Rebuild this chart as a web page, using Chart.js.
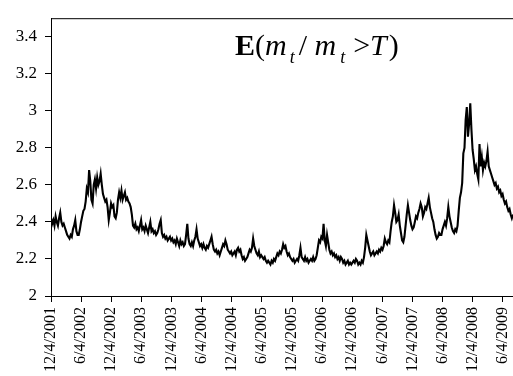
<!DOCTYPE html>
<html>
<head>
<meta charset="utf-8">
<script src="https://cdn.jsdelivr.net/npm/chart.js@4.4.1/dist/chart.umd.min.js"></script>
<style>
  html, body { margin: 0; padding: 0; background: #fff; }
</style>
</head>
<body>
<canvas id="chart" width="513" height="376"></canvas>
<script>
// weekly readings of E(m_t / m_t > T), first one on 12/4/2001
const startDate = '12/4/2001';
const stepDays = 7;
const values = [
  // 12/2001 - 5/2002
  2.42, 2.39, 2.41, 2.38, 2.43, 2.40, 2.38, 2.42, 2.45, 2.40, 2.38, 2.39, 2.37,
  2.35, 2.33, 2.32, 2.31, 2.33, 2.32, 2.36, 2.38, 2.41, 2.35, 2.33, 2.33, 2.36,
  // 6/2002 - 11/2002
  2.40, 2.43, 2.46, 2.47, 2.51, 2.58, 2.56, 2.68, 2.62, 2.52, 2.50, 2.60, 2.63,
  2.58, 2.64, 2.60, 2.62, 2.66, 2.60, 2.55, 2.53, 2.51, 2.52, 2.48, 2.41, 2.45,
  // 12/2002 - 5/2003
  2.50, 2.48, 2.49, 2.43, 2.42, 2.45, 2.52, 2.56, 2.53, 2.57, 2.52, 2.54, 2.56,
  2.52, 2.53, 2.51, 2.50, 2.48, 2.44, 2.38, 2.37, 2.39, 2.36, 2.37, 2.35, 2.38,
  // 6/2003 - 11/2003
  2.41, 2.36, 2.37, 2.35, 2.38, 2.36, 2.34, 2.37, 2.40, 2.35, 2.36, 2.34, 2.35,
  2.33, 2.34, 2.36, 2.39, 2.41, 2.34, 2.32, 2.33, 2.31, 2.32, 2.30, 2.31, 2.32,
  // 12/2003 - 5/2004
  2.30, 2.31, 2.29, 2.30, 2.28, 2.31, 2.29, 2.27, 2.30, 2.28, 2.29, 2.27, 2.28,
  2.33, 2.39, 2.31, 2.28, 2.27, 2.29, 2.27, 2.30, 2.32, 2.36, 2.31, 2.29, 2.27,
  // 6/2004 - 11/2004
  2.28, 2.26, 2.28, 2.26, 2.25, 2.27, 2.26, 2.28, 2.30, 2.32, 2.28, 2.25, 2.24,
  2.25, 2.23, 2.24, 2.22, 2.24, 2.26, 2.28, 2.27, 2.30, 2.28, 2.25, 2.24, 2.23,
  // 12/2004 - 5/2005
  2.24, 2.22, 2.23, 2.24, 2.22, 2.25, 2.26, 2.24, 2.25, 2.22, 2.20, 2.21, 2.19,
  2.20, 2.21, 2.23, 2.25, 2.24, 2.26, 2.31, 2.27, 2.25, 2.23, 2.22, 2.24, 2.21,
  // 6/2005 - 11/2005
  2.22, 2.21, 2.20, 2.21, 2.19, 2.18, 2.19, 2.18, 2.17, 2.19, 2.18, 2.20, 2.19,
  2.21, 2.23, 2.22, 2.24, 2.23, 2.25, 2.28, 2.26, 2.27, 2.24, 2.22, 2.23, 2.21,
  // 12/2005 - 5/2006
  2.20, 2.19, 2.20, 2.18, 2.19, 2.20, 2.19, 2.22, 2.26, 2.21, 2.20, 2.19, 2.21,
  2.19, 2.20, 2.18, 2.19, 2.20, 2.19, 2.21, 2.19, 2.20, 2.22, 2.26, 2.30, 2.29,
  // 6/2006 - 11/2006
  2.32, 2.31, 2.39, 2.30, 2.27, 2.33, 2.29, 2.25, 2.23, 2.24, 2.22, 2.23, 2.21,
  2.22, 2.20, 2.21, 2.19, 2.21, 2.20, 2.18, 2.19, 2.17, 2.18, 2.19, 2.17, 2.18,
  // 12/2006 - 5/2007
  2.17, 2.18, 2.19, 2.18, 2.20, 2.19, 2.17, 2.18, 2.17, 2.19, 2.18, 2.21, 2.26,
  2.33, 2.30, 2.27, 2.24, 2.22, 2.23, 2.24, 2.22, 2.23, 2.24, 2.23, 2.25, 2.24,
  // 6/2007 - 11/2007
  2.26, 2.25, 2.27, 2.31, 2.29, 2.28, 2.30, 2.29, 2.35, 2.40, 2.43, 2.49, 2.45,
  2.40, 2.41, 2.44, 2.38, 2.34, 2.30, 2.29, 2.32, 2.38, 2.44, 2.49, 2.45, 2.41,
  // 12/2007 - 5/2008
  2.38, 2.36, 2.37, 2.40, 2.43, 2.42, 2.45, 2.47, 2.50, 2.48, 2.43, 2.45, 2.48,
  2.47, 2.50, 2.53, 2.48, 2.45, 2.42, 2.40, 2.36, 2.33, 2.31, 2.32, 2.34, 2.33,
  // 6/2008 - 11/2008
  2.33, 2.36, 2.38, 2.40, 2.38, 2.42, 2.48, 2.43, 2.40, 2.37, 2.35, 2.34, 2.36,
  2.35, 2.38, 2.46, 2.53, 2.56, 2.61, 2.77, 2.80, 2.95, 3.02, 2.86, 2.93, 3.04, 2.90,
  // 12/2008 - 5/2009
  2.79, 2.74, 2.68, 2.70, 2.66, 2.63, 2.82, 2.70, 2.75, 2.68, 2.72, 2.70, 2.73,
  2.78, 2.70, 2.68, 2.66, 2.64, 2.62, 2.60, 2.61, 2.58, 2.59, 2.56, 2.57, 2.54,
  // 6/2009 - 8/2009
  2.55, 2.52, 2.50, 2.51, 2.48, 2.46, 2.47, 2.44, 2.42, 2.44
];

const xTickLabels = [
  '12/4/2001', '6/4/2002', '12/4/2002', '6/4/2003', '12/4/2003', '6/4/2004',
  '12/4/2004', '6/4/2005', '12/4/2005', '6/4/2006', '12/4/2006', '6/4/2007',
  '12/4/2007', '6/4/2008', '12/4/2008', '6/4/2009'
];
const yTicks = [2, 2.2, 2.4, 2.6, 2.8, 3, 3.2, 3.4];
const yMin = 2;
const yMax = 3.5;

// title pieces: E(m_t / m_t >T)
const titleParts = [
  { text: 'E', font: 'bold 30px "Liberation Serif"' },
  { text: '(', font: '30px "Liberation Serif"' },
  { text: 'm', font: 'italic 30px "Liberation Serif"', gap: 3 },
  { text: 't', font: 'italic 18px "Liberation Serif"', dy: 8, gap: 4 },
  { text: '/ ', font: '30px "Liberation Serif"' },
  { text: 'm', font: 'italic 30px "Liberation Serif"', gap: 4 },
  { text: 't', font: 'italic 18px "Liberation Serif"', dy: 8, gap: 8 },
  { text: '>', font: '30px "Liberation Serif"' },
  { text: 'T', font: 'italic 30px "Liberation Serif"', gap: 2 },
  { text: ')', font: '30px "Liberation Serif"' }
];

function dayOf(s) {
  const [m, d, y] = s.split('/').map(Number);
  const [m0, d0, y0] = startDate.split('/').map(Number);
  return Math.round((Date.UTC(y, m - 1, d) - Date.UTC(y0, m0 - 1, d0)) / 86400000);
}

const points = values.map((v, i) => ({ x: i * stepDays, y: v }));

const titlePlugin = {
  id: 'richTitle',
  afterDraw(chart) {
    const ctx = chart.ctx;
    const a = chart.chartArea;
    ctx.save();
    // top frame line
    ctx.strokeStyle = '#000';
    ctx.lineWidth = 1;
    ctx.beginPath();
    ctx.moveTo(a.left, a.top + 0.5);
    ctx.lineTo(a.right, a.top + 0.5);
    ctx.stroke();

    ctx.fillStyle = '#000';
    ctx.textBaseline = 'alphabetic';
    let x = a.left + 184;
    const base = a.top + 37;
    titleParts.forEach(p => {
      ctx.font = p.font;
      ctx.fillText(p.text, x, base + (p.dy || 0));
      x += ctx.measureText(p.text).width + (p.gap || 0);
    });
    ctx.restore();
  }
};

const tickFont = { family: '"Liberation Serif", "Times New Roman", serif', size: 16 };

new Chart(document.getElementById('chart'), {
  type: 'line',
  data: {
    datasets: [{
      data: points,
      borderColor: '#000',
      borderWidth: 2.1,
      pointRadius: 0,
      tension: 0,
      fill: false
    }]
  },
  options: {
    responsive: false,
    animation: false,
    layout: { padding: { top: 13, left: 0, right: 0, bottom: 0 } },
    plugins: { legend: { display: false }, tooltip: { enabled: false } },
    scales: {
      x: {
        type: 'linear',
        min: 0,
        max: (values.length - 1) * stepDays,
        afterBuildTicks: scale => {
          scale.ticks = xTickLabels.map(l => ({ value: dayOf(l) }));
        },
        afterFit: scale => {
          scale.height = 80;
          scale.paddingLeft = 0;
          scale.paddingRight = 0;
        },
        ticks: {
          autoSkip: false,
          maxRotation: 90,
          minRotation: 90,
          padding: 5,
          color: '#000',
          font: tickFont,
          callback: (v, i) => xTickLabels[i]
        },
        grid: { drawOnChartArea: false, drawTicks: true, tickLength: 6, color: '#000' },
        border: { display: true, color: '#000', width: 1 }
      },
      y: {
        min: yMin,
        max: yMax,
        afterBuildTicks: scale => {
          scale.ticks = yTicks.map(v => ({ value: v }));
        },
        afterFit: scale => { scale.width = 51; },
        ticks: {
          padding: 8,
          color: '#000',
          font: { family: tickFont.family, size: 17 },
          callback: v => String(v)
        },
        grid: { drawOnChartArea: false, drawTicks: true, tickLength: 6, color: '#000' },
        border: { display: true, color: '#000', width: 1 }
      }
    }
  },
  plugins: [titlePlugin]
});
</script>
</body>
</html>
